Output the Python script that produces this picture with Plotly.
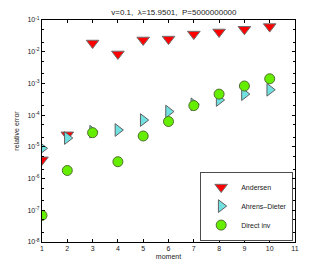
import plotly.graph_objects as go

moments = [1, 2, 3, 4, 5, 6, 7, 8, 9, 10]
andersen = [3.9e-6, 2.4e-5, 0.0188, 0.0085, 0.0235, 0.025, 0.036, 0.042, 0.051, 0.062]
ahrens_dieter = [9e-6, 1.9e-5, 3.0e-5, 3.4e-5, 7e-5, 1.3e-4, 2.2e-4, 3.0e-4, 4.6e-4, 6.3e-4]
direct_inv = [6.9e-8, 1.8e-6, 2.8e-5, 3.4e-6, 2.2e-5, 6.3e-5, 2.0e-4, 4.6e-4, 8.3e-4, 1.4e-3]

ytick_exp = [-8, -7, -6, -5, -4, -3, -2, -1]
xticks = [1, 2, 3, 4, 5, 6, 7, 8, 9, 10, 11]

fig = go.Figure()
fig.add_trace(go.Scatter(x=moments, y=andersen, mode="markers", name="Andersen",
                         marker=dict(symbol="triangle-down", size=11, color="#ff0000",
                                     line=dict(color="#707070", width=1))))
fig.add_trace(go.Scatter(x=moments, y=ahrens_dieter, mode="markers", name="Ahrens\u2013Dieter",
                         marker=dict(symbol="triangle-right", size=11, color="#70e0e0",
                                     line=dict(color="#606060", width=1))))
fig.add_trace(go.Scatter(x=moments, y=direct_inv, mode="markers", name="Direct inv",
                         marker=dict(symbol="circle", size=10, color="#66ee00",
                                     line=dict(color="#507030", width=1))))

axis_common = dict(showline=True, linecolor="black", linewidth=1, mirror="allticks",
                   ticks="inside", ticklen=3, tickcolor="black", showgrid=False,
                   zeroline=False, automargin=False, tickfont=dict(size=7, color="#222"))

# page body has an 8px default margin, so the figure is offset by (8, 8)
fig.update_layout(
    width=319, height=265,
    margin=dict(l=34, r=32, t=12, b=31),
    paper_bgcolor="white", plot_bgcolor="white",
    font=dict(family="Liberation Sans, Arial, sans-serif", size=7, color="#222"),
    title=dict(text="v=0.1,  \u03bb=15.9501,  P=5000000000", x=0.52, xanchor="center",
               y=0.985, yanchor="middle", font=dict(size=8, color="#222")),
    xaxis=dict(range=[1, 11], tickvals=xticks, title=dict(text="moment", standoff=2,
               font=dict(size=7, color="#222")), **axis_common),
    yaxis=dict(type="log", range=[-8, -1],
               tickvals=[10 ** e for e in ytick_exp],
               ticktext=["10<sup>%d</sup>" % e for e in ytick_exp],
               minor=dict(ticks="inside", ticklen=2, tickcolor="black", showgrid=False),
               title=dict(text="relative error", standoff=6, font=dict(size=7, color="#222")),
               **axis_common),
    legend=dict(x=0.99, y=0.005, xanchor="right", yanchor="bottom",
                bgcolor="white", bordercolor="black", borderwidth=0.7,
                font=dict(size=7, color="#222"), tracegroupgap=0, itemwidth=30),
    showlegend=True,
)

fig.write_html("out.html")
